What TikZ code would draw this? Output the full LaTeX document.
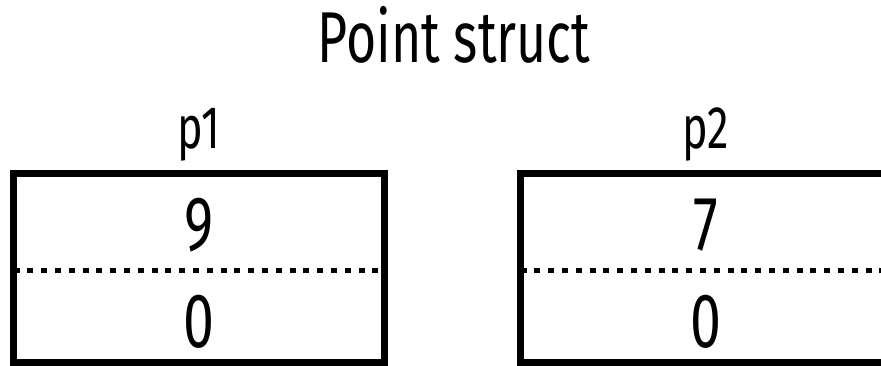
\documentclass[tikz,border=0pt]{standalone}
\usepackage{fontspec}
\setmainfont{Fira Sans}[FakeStretch=0.72]
\begin{document}
\begin{tikzpicture}[x=1pt,y=1pt,
  cell/.style={draw=black,line width=7pt,rectangle,outer sep=0pt,inner sep=0pt,
    minimum width=371pt,minimum height=188.5pt},
  dotline/.style={line width=5pt,dash pattern=on 6pt off 7.8pt},
  title/.style={font=\fontsize{72}{80}\selectfont,anchor=base,inner sep=0pt},
  lbl/.style={font=\fontsize{60}{66}\selectfont,anchor=base,inner sep=0pt},
  val/.style={font=\fontsize{77}{84}\selectfont,anchor=base,inner sep=0pt}]
\useasboundingbox (0,0) rectangle (881,365);
\fill[white] (0,0) rectangle (881,365);
\clip (0,0) rectangle (881,365);
\node[title] (t) at (454,302) {Point struct};
\node[lbl] (l1) at (199,217) {p1};
\node[lbl] (l2) at (706,217) {p2};
\node[cell] (b1) at (199,97.25) {};
\node[cell] (b2) at (706,97.25) {};
\draw[dotline] ([yshift=-2.25pt]b1.west) -- ([yshift=-2.25pt]b1.east);
\draw[dotline] ([yshift=-2.25pt]b2.west) -- ([yshift=-2.25pt]b2.east);
\node[val] (v1) at (199,115) {9};
\node[val] (w1) at (199,18) {0};
\node[val] (v2) at (706,115) {7};
\node[val] (w2) at (706,18) {0};
\end{tikzpicture}
\end{document}
